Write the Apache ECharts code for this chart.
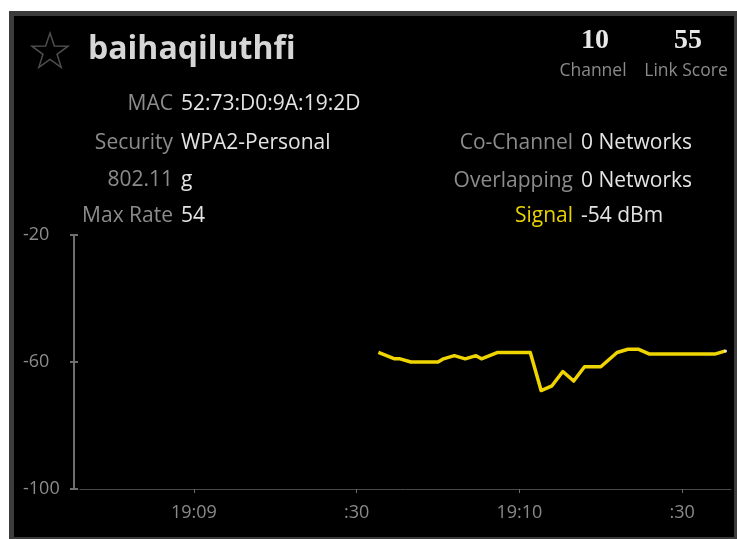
<!DOCTYPE html>
<html>
<head>
<meta charset="utf-8">
<script src="https://cdn.jsdelivr.net/npm/echarts@6/dist/echarts.min.js"></script>
<style>
  html, body { margin: 0; padding: 0; background: #fff; }
  #chart { width: 737px; height: 539px; }
</style>
</head>
<body>
<div id="chart"></div>
<script>
// signal samples (time, dBm)
const times = ['19:09:34', '19:09:37', '19:09:38', '19:09:40', '19:09:42', '19:09:45', '19:09:46',
    '19:09:48', '19:09:50', '19:09:52', '19:09:53', '19:09:56', '19:10:02', '19:10:04', '19:10:06',
    '19:10:08', '19:10:10', '19:10:12', '19:10:15', '19:10:18', '19:10:20', '19:10:22', '19:10:24',
    '19:10:36', '19:10:38'];
const signal = [-57, -59, -59, -60, -60, -60, -59, -58, -59, -58, -59, -57, -57, -69, -67.5,
    -63, -66, -61.5, -61.5, -57, -56, -56, -57.5, -57.5, -56.5];

// x axis: seconds relative to 19:09:00
const xStart = '19:08:39';
const xEnd = '19:10:39';
const xTickTimes = ['19:09:00', '19:09:30', '19:10:00', '19:10:30'];
const xTickLabels = ['19:09', ':30', '19:10', ':30'];

const yTicks = [-100, -60, -20];

// header info
const leftLabels = ['MAC', 'Security', '802.11', 'Max Rate'];
const leftValues = ['52:73:D0:9A:19:2D', 'WPA2-Personal', 'g', '54'];
const rightLabels = ['Co-Channel', 'Overlapping', 'Signal'];
const rightValues = ['0 Networks', '0 Networks', '-54 dBm'];
const ssid = 'baihaqiluthfi';
const channel = '10';
const linkScore = '55';

const FONT = '"Open Sans", "Noto Sans", sans-serif';

function toSec(s) {
    const p = s.split(':').map(Number);
    return (p[0] - 19) * 3600 + (p[1] - 9) * 60 + p[2];
}

const xTickSecs = xTickTimes.map(toSec);
const lineData = times.map((t, i) => [toSec(t), signal[i]]);

function txt(text, x, y, opts) {
    return {
        type: 'text', x: x, y: y, silent: true, z: 10,
        style: Object.assign({
            text: text, fill: '#e4e4e4', fontFamily: FONT, fontSize: 21,
            align: 'left', verticalAlign: 'middle'
        }, opts || {})
    };
}

// star outline
const starPts = [];
for (let i = 0; i < 10; i++) {
    const r = i % 2 === 0 ? 19 : 7.4;
    const a = -Math.PI / 2 + i * Math.PI / 5;
    starPts.push([50 + r * Math.cos(a), 52 + r * Math.sin(a)]);
}

const graphics = [
    { type: 'rect', z: -10, silent: true, shape: { x: 9, y: 11, width: 728, height: 528 }, style: { fill: '#3c3c3c' } },
    { type: 'rect', z: -9, silent: true, shape: { x: 14, y: 16, width: 720, height: 521 }, style: { fill: '#000' } },
    { type: 'polygon', z: 10, silent: true, shape: { points: starPts }, style: { fill: 'none', stroke: '#4e4e4e', lineWidth: 1.5 } },
    txt(ssid, 88, 50, { fontSize: 32, fontWeight: 'bold', fill: '#d6d6d6' }),
    txt(channel, 595, 41, { fontSize: 28, fontWeight: 'bold', align: 'center', fill: '#e8e8e8', fontFamily: '"Liberation Serif", serif' }),
    txt(linkScore, 688, 41, { fontSize: 28, fontWeight: 'bold', align: 'center', fill: '#e8e8e8', fontFamily: '"Liberation Serif", serif' }),
    txt('Channel', 593, 71, { fontSize: 17.5, align: 'center', fill: '#8a8a8a' }),
    txt('Link Score', 686, 71, { fontSize: 17.5, align: 'center', fill: '#8a8a8a' })
];
const leftRows = [104, 143, 180, 216];
leftLabels.forEach((l, i) => {
    graphics.push(txt(l, 173, leftRows[i], { align: 'right', fill: '#8c8c8c' }));
    graphics.push(txt(leftValues[i], 181, leftRows[i]));
});
const rightRows = [143, 181, 216];
rightLabels.forEach((l, i) => {
    const isSignal = l === 'Signal';
    graphics.push(txt(l, 573, rightRows[i], { align: 'right', fill: isSignal ? '#e8d200' : '#8c8c8c' }));
    graphics.push(txt(rightValues[i], 581, rightRows[i]));
});

const chart = echarts.init(document.getElementById('chart'));
chart.setOption({
    backgroundColor: '#fff',
    animation: false,
    graphic: graphics,
    grid: { left: 80, right: 6, top: 235, bottom: 50 },
    xAxis: {
        type: 'value',
        min: toSec(xStart),
        max: toSec(xEnd),
        splitLine: { show: false },
        axisLine: { onZero: false, lineStyle: { color: '#4a4a4a', width: 1 } },
        axisTick: { customValues: xTickSecs, length: 4, lineStyle: { color: '#6a6a6a' } },
        axisLabel: {
            customValues: xTickSecs,
            color: '#8a8a8a', fontSize: 18, fontFamily: FONT, margin: 15,
            formatter: (v) => xTickLabels[xTickSecs.indexOf(v)] || ''
        }
    },
    yAxis: [{
        type: 'value', position: 'left', offset: 6,
        min: yTicks[0], max: yTicks[2], interval: 40,
        splitLine: { show: false },
        axisLine: { show: true, onZero: false, lineStyle: { color: '#6e6e6e', width: 2 } },
        axisTick: { show: true, length: 4, lineStyle: { color: '#6e6e6e', width: 2 } },
        axisLabel: { color: '#8c8c8c', fontSize: 18, fontFamily: FONT, align: 'left', margin: 51 }
    }, {
        type: 'value', position: 'left', offset: 6,
        min: yTicks[0], max: yTicks[2], interval: 40,
        splitLine: { show: false },
        axisLine: { show: false, onZero: false },
        axisTick: { show: true, inside: true, length: 4, lineStyle: { color: '#6e6e6e', width: 2 } },
        axisLabel: { show: false }
    }],
    series: [{
        type: 'line',
        data: lineData,
        showSymbol: false,
        lineStyle: { color: '#f0d400', width: 3.5, join: 'round' },
        z: 3
    }, {
        type: 'scatter',
        data: [lineData[lineData.length - 1]],
        symbolSize: 3,
        itemStyle: { color: '#fff' },
        z: 4
    }]
});
</script>
</body>
</html>
